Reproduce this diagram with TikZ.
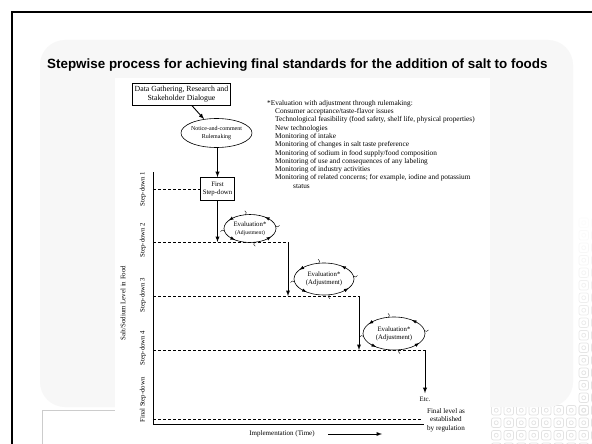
\documentclass[tikz,border=0pt]{standalone}
\usepackage{fontspec}
\setmainfont{Liberation Serif}
\newfontfamily\titlefont{Liberation Sans}
\usetikzlibrary{shapes.geometric,arrows,calc}

\definecolor{slidegray}{HTML}{F7F7F7}
\definecolor{framegray}{HTML}{CCCCCC}
\definecolor{patterngray}{HTML}{E2E2E2}

\tikzstyle{stepbox}=[rectangle, draw, line width=0.6,
                     inner sep=2, align=center, font=\fontsize{7.8}{9}\selectfont]
\tikzstyle{bubble}=[ellipse, draw, line width=0.6,
                    inner xsep=-3, inner ysep=0, align=center, font=\fontsize{6}{7.2}\selectfont]
\tikzstyle{evalbub}=[ellipse, inner sep=0, align=center, font=\fontsize{6.8}{8}\selectfont]
\tikzstyle{level}=[dash pattern=on 3pt off 2pt, line width=0.9]
\tikzstyle{link}=[->, >=latex, line width=0.9]
\tikzstyle{axislbl}=[rotate=90, inner sep=0, font=\fontsize{6.8}{8}\selectfont]

% ellipse with little cycle arrows round it
\newcommand{\evalcycle}[3]{%
  \draw[line width=0.6] (#1.center) ellipse [x radius=#2, y radius=#3];
  \foreach \t in {55,145,235,325} {
    \draw[-latex, line width=0.6] ($(#1.center)+({#2*cos(\t-12)},{-#3*sin(\t-12)})$)
      -- ($(#1.center)+({#2*cos(\t)},{-#3*sin(\t)})$);
  }
  \foreach \t in {100,190,280,10} {
    \draw[line width=0.4] ($(#1.center)+({#2*cos(\t)},{-#3*sin(\t)})$)
      .. controls +({2*cos(\t)+1.5*sin(\t)},{-2*sin(\t)+1.5*cos(\t)}) .. +({4*cos(\t)},{-4*sin(\t)});
  }
}

\begin{document}
\begin{tikzpicture}[x=1pt, y=-1pt]

%%%%%%%%%%%%%%%%%%%%%%%%%%%%%%
% slide

\useasboundingbox (0,0) rectangle (592,444);
\fill[white] (0,0) rectangle (592,444);

% tile pattern
\foreach \x in {490,502.5,...,590} {
  \foreach \y in {404,416.5,...,444} {
    \draw[patterngray, line width=0.7, rounded corners=2] (\x+1.5,\y+1.5) rectangle +(9.5,9.5);
    \draw[patterngray, line width=0.7] (\x+6.25,\y+6.25) circle (2);
  }
}
\foreach \y in {216.5,229,...,404} {
  \pgfmathsetmacro{\op}{min(1,(\y-200)/160)}
  \foreach \x in {577.5,590} {
    \draw[patterngray, opacity=\op, line width=0.7, rounded corners=2] (\x+1.5,\y+1.5) rectangle +(9.5,9.5);
    \draw[patterngray, opacity=\op, line width=0.7] (\x+6.25,\y+6.25) circle (2);
  }
}

\fill[slidegray, rounded corners=25] (40,40) rectangle (573,407);
\fill[white] (42,410) rectangle (300,444);
\draw[framegray, line width=0.8] (42,444) |- (300,410);
\draw[black, line width=2.2] (12,444) |- (592,12);

\node (title) at (47,65) [anchor=west, inner sep=0, font=\titlefont\bfseries\fontsize{13.4}{15}\selectfont]
  {Stepwise process for achieving final standards for the addition of salt to foods};

% figure sheet
\fill[white] (115,78) rectangle (490,444);

%%%%%%%%%%%%%%%%%%%%%%%%%%%%%%
% nodes

\node (data) at (181.5,94) [stepbox, minimum width=97, minimum height=22] {Data Gathering, Research and\\Stakeholder Dialogue};
\node (notice) at (216.5,133) [bubble, minimum width=71, minimum height=29] {Notice-and-comment\\Rulemaking};
\node (first) at (217.5,189) [stepbox, minimum width=33, minimum height=23, font=\fontsize{6.8}{8}\selectfont] {First\\Step-down};

\node (eval1) at (250,228.5) [evalbub] {Evaluation*\\{\fontsize{5.6}{6.4}\selectfont(Adjustment)}};
\node (eval2) at (324,279) [evalbub] {Evaluation*\\(Adjustment)};
\node (eval3) at (394,333.5) [evalbub] {Evaluation*\\(Adjustment)};

\node (note) at (267,100) [anchor=north west, align=left, inner sep=0, font=\fontsize{7.3}{8.3}\selectfont]
  {*Evaluation with adjustment through rulemaking:\\
   \hspace*{8pt}Consumer acceptance/taste-flavor issues\\
   \hspace*{8pt}Technological feasibility (food safety, shelf life, physical properties)\\
   \hspace*{8pt}New technologies\\
   \hspace*{8pt}Monitoring of intake\\
   \hspace*{8pt}Monitoring of changes in salt taste preference\\
   \hspace*{8pt}Monitoring of sodium in food supply/food composition\\
   \hspace*{8pt}Monitoring of use and consequences of any labeling\\
   \hspace*{8pt}Monitoring of industry activities\\
   \hspace*{8pt}Monitoring of related concerns; for example, iodine and potassium\\
   \hspace*{26pt}status};

% axis labels
\node (sd1) at (143,189) [axislbl] {Step-down 1};
\node (sd2) at (143,240) [axislbl] {Step-down 2};
\node (sd3) at (143,295) [axislbl] {Step-down 3};
\node (sd4) at (143,348) [axislbl] {Step-down 4};
\node (sd5) at (143,400) [axislbl] {Final Step-down};
\node (ylab) at (123,303) [axislbl, font=\fontsize{6.9}{8}\selectfont] {Salt/Sodium Level in Food};

\node (etc) at (425,399) [font=\fontsize{6.8}{8}\selectfont] {Etc.};
\node (final) at (446,420) [align=center, inner sep=0, font=\fontsize{7.1}{8.5}\selectfont] {Final level as\\established\\by regulation};
\node (impl) at (282,434) [inner sep=0, font=\fontsize{7}{8}\selectfont] {Implementation (Time)};

%%%%%%%%%%%%%%%%%%%%%%%%%%%%%%
% evaluation cycles

\evalcycle{eval1}{26}{14}
\evalcycle{eval2}{30}{16}
\evalcycle{eval3}{31}{16.5}

%%%%%%%%%%%%%%%%%%%%%%%%%%%%%%
% axes and levels

\coordinate (top) at (153,172);
\coordinate (orig) at (153,424);
\coordinate (xend) at (424,424);
\draw[line width=0.8] (top) -- (orig) -- (xend);

\coordinate (l1a) at (153,189);
\coordinate (l2a) at (153,242);   \coordinate (l2b) at (288,242);
\coordinate (l3a) at (153,296);   \coordinate (l3b) at (359,296);
\coordinate (l4a) at (153,350);   \coordinate (l4b) at (425,350);
\coordinate (l5a) at (153,419);   \coordinate (l5b) at (422,419);

\draw[level] (l1a) -- (first.west);
\draw[level] (l2a) -- (l2b);
\draw[level] (l3a) -- (l3b);
\draw[level] (l4a) -- (l4b);
\draw[level] (l5a) -- (l5b);

%%%%%%%%%%%%%%%%%%%%%%%%%%%%%%
% links

\coordinate (land2) at (217.5,242);
\coordinate (land3) at (288,296);
\coordinate (land4) at (359,350);
\coordinate (timea) at (328,434);
\coordinate (timeb) at (382,434);

\draw [link] (data) to (notice);
\draw [link] (notice.south -| first) to (first);
\draw [link] (first) to (land2);
\draw [link] (l2b) to (land3);
\draw [link] (l3b) to (land4);
\draw [link] (l4b) to (etc.north);
\draw [link] (timea) to (timeb);

\end{tikzpicture}
\end{document}
